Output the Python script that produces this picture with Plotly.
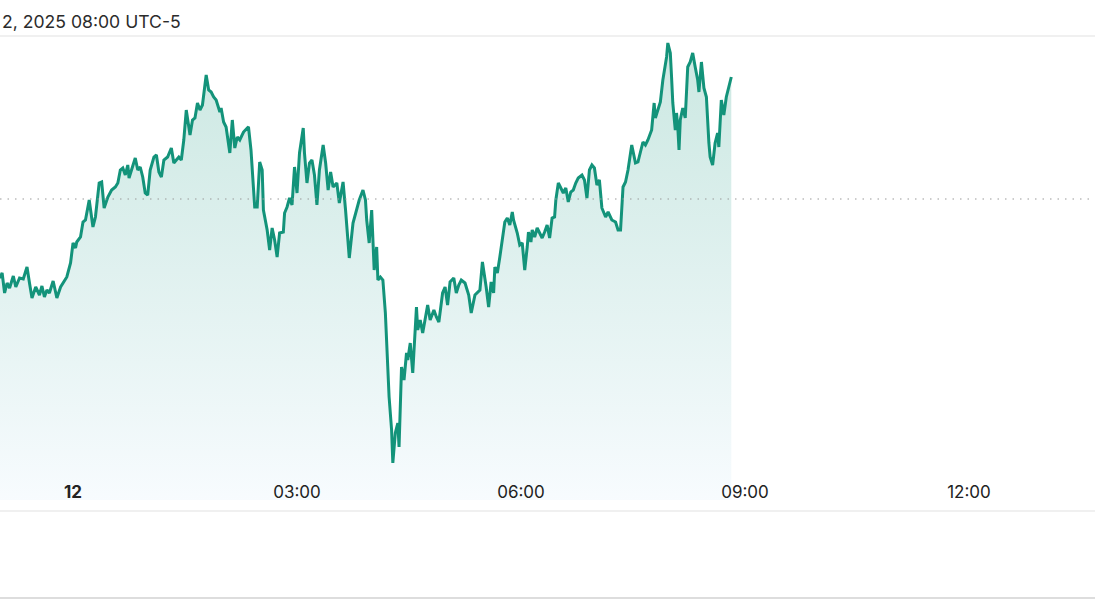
"""Intraday price chart, Sep 12 2025 (UTC-5), with previous-close reference."""

import pandas as pd
import plotly.graph_objects as go

# minutes relative to 2025-09-12 00:00 (UTC-5)
minutes = [
    -59, -57, -55, -53, -51, -48, -46, -43, -40, -37, -35, -33, -30, -27, -25, -23,
    -21, -19, -16, -13, -10, -8, -5, -2, 0, 2, 3, 6, 8, 10, 13, 16, 18, 21, 23, 25,
    28, 31, 34, 36, 38, 40, 42, 44, 45, 47, 50, 52, 54, 56, 58, 60, 62, 65, 67, 69,
    71, 73, 76, 79, 81, 83, 85, 87, 89, 91, 94, 96, 98, 100, 102, 104, 107, 109, 111,
    113, 115, 118, 119, 121, 123, 126, 128, 130, 132, 134, 137, 140, 141, 143, 145,
    146, 148, 150, 152, 153, 156, 158, 160, 162, 164, 166, 169, 170, 172, 174, 176,
    178, 180, 182, 185, 186, 188, 190, 192, 194, 196, 198, 201, 203, 205, 207, 209,
    212, 214, 217, 219, 222, 225, 227, 230, 233, 235, 236, 238, 240, 242, 244, 245,
    247, 249, 251, 253, 254, 256, 257, 259, 261, 262, 264, 266, 268, 269, 271, 273,
    276, 277, 279, 281, 284, 285, 287, 290, 292, 294, 297, 299, 301, 303, 306, 308,
    310, 312, 315, 318, 320, 323, 327, 329, 332, 334, 336, 338, 339, 341, 343, 345,
    347, 349, 351, 353, 354, 357, 359, 361, 362, 363, 365, 366, 368, 369, 371, 373,
    375, 377, 379, 381, 383, 385, 387, 388, 390, 392, 394, 396, 398, 400, 402, 404,
    406, 409, 411, 413, 415, 417, 419, 421, 423, 425, 428, 430, 433, 436, 438, 440,
    442, 444, 446, 449, 452, 454, 456, 458, 460, 462, 465, 467, 468, 470, 472, 474,
    477, 478, 480, 481, 482, 484, 485, 486, 487, 488, 490, 492, 494, 496, 498, 500,
    502, 503, 505, 507, 509, 511, 512, 514, 516, 518, 519, 521, 523, 525, 527, 529,
]

price = [
    22.2, 22.7, 20.7, 21.7, 21.2, 22.4, 21.3, 22.2, 22.1, 23.3, 21.7, 20.2, 21.3, 20.5,
    21.4, 20.3, 21.0, 20.7, 21.9, 20.2, 21.3, 21.7, 22.3, 23.7, 25.7, 25.2, 25.8, 26.3,
    27.8, 28.0, 30.0, 27.3, 28.3, 31.7, 31.8, 29.2, 30.3, 31.0, 31.3, 31.7, 33.0, 33.2,
    32.5, 33.5, 32.2, 33.0, 34.2, 33.0, 33.3, 32.3, 30.7, 30.5, 33.0, 34.3, 34.5, 32.8,
    32.3, 34.0, 34.3, 35.2, 33.7, 34.0, 34.3, 34.0, 36.0, 39.0, 36.5, 38.0, 38.2, 39.7,
    39.0, 39.5, 42.5, 41.0, 40.8, 40.3, 40.0, 38.8, 39.2, 37.8, 37.3, 34.7, 38.0, 35.2,
    36.3, 36.0, 36.8, 37.2, 37.3, 35.0, 31.7, 29.3, 29.3, 33.8, 33.0, 29.0, 27.0, 25.0,
    27.2, 26.0, 24.3, 26.7, 26.8, 28.7, 29.3, 30.2, 29.5, 33.3, 30.7, 34.7, 37.2, 34.7,
    31.7, 33.7, 34.0, 32.5, 29.5, 33.0, 35.5, 33.7, 31.0, 32.8, 31.3, 31.7, 29.7, 31.8,
    29.0, 24.2, 27.7, 28.7, 30.0, 31.0, 30.0, 28.0, 25.7, 29.0, 23.0, 25.3, 22.0, 22.3,
    22.0, 18.7, 13.7, 10.3, 7.0, 3.7, 6.7, 7.7, 5.3, 13.3, 12.0, 14.7, 14.0, 15.7, 12.7,
    19.3, 17.0, 18.0, 16.7, 18.7, 19.5, 18.0, 19.0, 18.3, 17.8, 20.7, 21.3, 19.5, 21.8,
    22.2, 20.7, 21.5, 22.0, 21.7, 20.5, 18.7, 20.5, 21.0, 23.8, 21.3, 19.3, 21.8, 20.7,
    23.3, 22.7, 24.3, 26.0, 27.8, 28.2, 27.5, 28.8, 28.0, 26.7, 25.5, 25.7, 24.3, 23.0,
    25.3, 26.8, 25.8, 27.0, 26.3, 27.2, 26.7, 26.2, 26.8, 27.5, 26.2, 28.2, 28.3, 30.0,
    31.7, 31.2, 30.7, 31.2, 29.8, 30.8, 31.0, 31.7, 32.2, 32.5, 32.0, 30.2, 33.0, 33.5,
    33.2, 31.5, 32.0, 29.2, 28.3, 28.8, 28.0, 27.8, 27.0, 27.0, 31.3, 31.8, 33.0, 35.5,
    33.7, 33.8, 34.7, 35.8, 35.5, 36.0, 37.0, 39.7, 38.2, 39.0, 39.8, 42.0, 44.3, 45.7,
    44.7, 42.3, 39.7, 37.0, 38.7, 37.3, 35.0, 38.0, 39.2, 38.2, 43.3, 43.8, 44.7, 43.3,
    42.0, 40.8, 43.8, 41.2, 40.3, 35.7, 34.3, 33.5, 35.7, 36.7, 35.3, 40.0, 38.5, 40.3,
    41.3, 42.3,
]

prev_close = 30.1

tick_times = ["2025-09-12 00:00", "2025-09-12 03:00", "2025-09-12 06:00",
              "2025-09-12 09:00", "2025-09-12 12:00"]
tick_labels = ["<b>12</b>", "03:00", "06:00", "09:00", "12:00"]

times = pd.Timestamp("2025-09-12") + pd.to_timedelta(minutes, unit="min")

LINE = "#13937a"

fig = go.Figure()
fig.add_trace(
    go.Scatter(
        x=times,
        y=price,
        mode="lines",
        line=dict(color=LINE, width=3),
        fill="tozeroy",
        fillgradient=dict(
            type="vertical",
            start=0,
            stop=46,
            colorscale=[
                [0.0, "rgba(225,240,252,0.25)"],
                [1.0, "rgba(20,150,122,0.22)"],
            ],
        ),
        hoverinfo="skip",
        showlegend=False,
    )
)

fig.add_hline(
    y=prev_close,
    line=dict(color="#9a9a9a", width=1.2, dash="1.5px,6px"),
)

fig.add_annotation(
    text="2, 2025 08:00 UTC-5",
    xref="paper", yref="paper",
    x=0.0, y=1.032,
    xanchor="left", yanchor="middle",
    showarrow=False,
    font=dict(size=17.6, color="#2b2b2b"),
)

# outer bottom border of the widget
fig.add_shape(
    type="line", xref="paper", yref="paper",
    x0=0, x1=1, y0=-0.186, y1=-0.186,
    line=dict(color="#dddddd", width=2),
)

fig.update_xaxes(
    range=["2025-09-11 23:01:18", "2025-09-12 13:41:18"],
    tickvals=tick_times,
    ticktext=tick_labels,
    ticklabelposition="inside",
    ticklabelstandoff=9,
    ticks="",
    showgrid=False,
    zeroline=False,
    showline=True,
    mirror=True,
    linecolor="#f0f0f0",
    linewidth=1.5,
    tickfont=dict(size=17, color="#222222"),
)
fig.update_yaxes(
    range=[-1.0, 46.3],
    showticklabels=False,
    showgrid=False,
    zeroline=False,
    showline=False,
)

fig.update_layout(
    width=1095,
    height=600,
    margin=dict(l=0, r=0, t=37, b=90),
    paper_bgcolor="white",
    plot_bgcolor="white",
    font=dict(family="Inter, Roboto, sans-serif"),
)

fig.write_html(
    "out.html",
    config={"displayModeBar": False},
    post_script="document.body.style.margin = '0px';",
)
